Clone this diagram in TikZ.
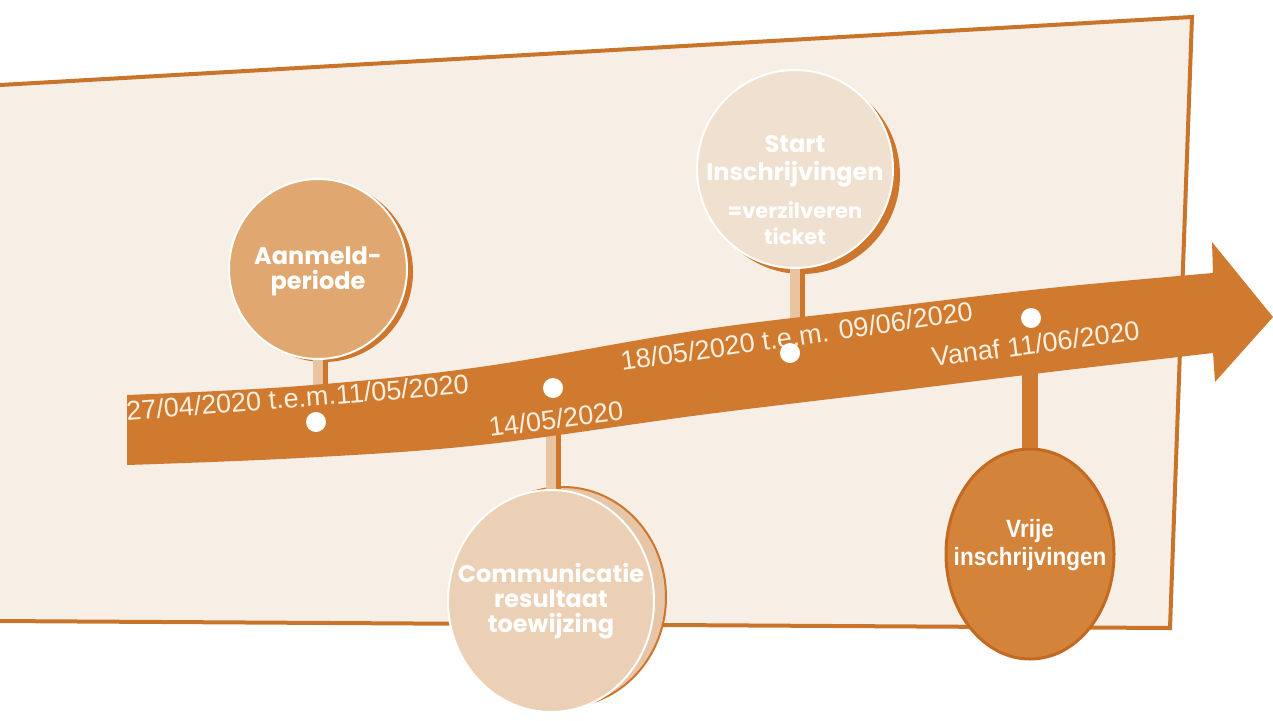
\documentclass[tikz,border=0pt]{standalone}
\usepackage{fontspec}
\setmainfont{Liberation Sans}
\newfontfamily\roundfont{Poppins}
\usetikzlibrary{shapes.geometric,shadows}
\definecolor{panel}{RGB}{247,238,229}
\definecolor{edge}{RGB}{200,116,42}
\definecolor{bandcol}{RGB}{208,122,48}
\definecolor{aanfill}{RGB}{224,168,112}
\definecolor{comfill}{RGB}{236,208,182}
\definecolor{comback}{RGB}{230,198,166}
\definecolor{startfill}{RGB}{240,224,208}
\definecolor{vrijfill}{RGB}{212,132,58}
\definecolor{vrijedge}{RGB}{196,106,32}
\definecolor{shade}{RGB}{206,118,44}
\definecolor{stemtan}{RGB}{232,196,160}
\definecolor{datecol}{RGB}{252,240,225}
\begin{document}
\begin{tikzpicture}[x=1pt,y=-1pt,
  bubble/.style={ellipse, inner sep=0pt, draw=white, line width=2pt},
  bubbletext/.style={align=center, text=white, font=\roundfont\bfseries\fontsize{24}{28}\selectfont, inner sep=0pt},
  datetext/.style={text=datecol, font=\fontsize{27}{30}\selectfont, inner sep=0pt, anchor=base west},
  dot/.style={circle, fill=white, minimum size=20pt, inner sep=0pt},
  stemshade/.style={line width=14pt, draw=shade},
  stemfront/.style={line width=10pt, draw=stemtan}
]
\useasboundingbox (0,0) rectangle (1273,720);
% panel
\filldraw[fill=panel, draw=edge, line width=4pt] (-5,85.3) -- (1192,17) -- (1170,628) -- (-5,621);

% dots positions
\coordinate (p1) at (316,422);
\coordinate (p2) at (553,388);
\coordinate (p3) at (790,353);
\coordinate (p4) at (1031,318);

% bubbles
\node[bubble, fill=aanfill, minimum width=178pt, minimum height=180pt,
  drop shadow={shadow xshift=6pt, shadow yshift=-3pt, fill=shade, opacity=1}] (aan) at (318,269) {};
\node[bubbletext] (aantxt) at ([yshift=-2pt]aan.center) {Aanmeld-\\[-3pt]periode};

\fill[comback, draw=shade, line width=2pt] (563,597) ellipse [x radius=103, y radius=110];
\node[bubble, fill=comfill, minimum width=206pt, minimum height=222pt] (com) at (551,601) {};
\node[bubbletext] (comtxt) at (com.center) {Communicatie\\[-3pt]resultaat\\[-3pt]toewijzing};

\node[bubble, fill=startfill, minimum width=196pt, minimum height=198pt,
  drop shadow={shadow xshift=7pt, shadow yshift=-6pt, fill=shade, opacity=1}] (start) at (795,169) {};
\node[bubbletext] (starttxt) at ([yshift=-21pt]start.center)
  {Start\\[0pt]Inschrijvingen\\[10pt]{\fontsize{21}{24}\selectfont =verzilveren}\\[-2pt]{\fontsize{21}{24}\selectfont ticket}};

\node[ellipse, inner sep=0pt, fill=vrijfill, draw=vrijedge, line width=3pt, minimum width=168pt, minimum height=210pt] (vrij) at (1030,554) {};
\node[align=center, text=white, inner sep=0pt, font=\bfseries\fontsize{25}{28}\selectfont] (vrijtxt) at ([yshift=9pt]vrij.center) {\scalebox{0.9}[1]{Vrije}\\\scalebox{0.9}[1]{inschrijvingen}};

% stems
\draw[stemshade] ([xshift=3pt]aan.south) -- ([xshift=3pt]aan.south |- p1);
\draw[stemfront] (aan.south) -- (aan.south |- p1);
\draw[stemshade] ([xshift=3pt]com.north) -- ([xshift=3pt]com.north |- p2);
\draw[stemfront] (com.north) -- (com.north |- p2);
\draw[stemshade] ([xshift=3pt]start.south) -- ([xshift=3pt]start.south |- p3);
\draw[stemfront] (start.south) -- (start.south |- p3);
\draw[line width=16pt, draw=bandcol] (vrij.north) -- (vrij.north |- p4);

% band arrow
\fill[bandcol] plot[smooth, tension=0.6] coordinates {(127,395) (300,386) (480,367) (700,330) (880,308) (1050,288) (1213,273)}
  -- (1212,242) -- (1273,317) -- (1215,382) -- (1213,353)
  -- plot[smooth, tension=0.6] coordinates {(1213,353) (1050,372) (880,393) (700,415) (480,445) (300,458) (127,465)} -- cycle;

% dates
\node[datetext, rotate=4.6] (t1) at (127,421) {27/04/2020 t.e.m.11/05/2020};
\node[datetext, rotate=7.5] (t2) at (490,437) {14/05/2020};
\node[datetext, rotate=8.2] (t3) at (622,371) {18/05/2020 t.e.m. 09/06/2020};
\node[datetext, rotate=7.5] (t4) at (933,367) {Vanaf 11/06/2020};

% dots
\node[dot] (d1) at (p1) {};
\node[dot] (d2) at (p2) {};
\node[dot] (d3) at (p3) {};
\node[dot] (d4) at (p4) {};
\end{tikzpicture}
\end{document}
